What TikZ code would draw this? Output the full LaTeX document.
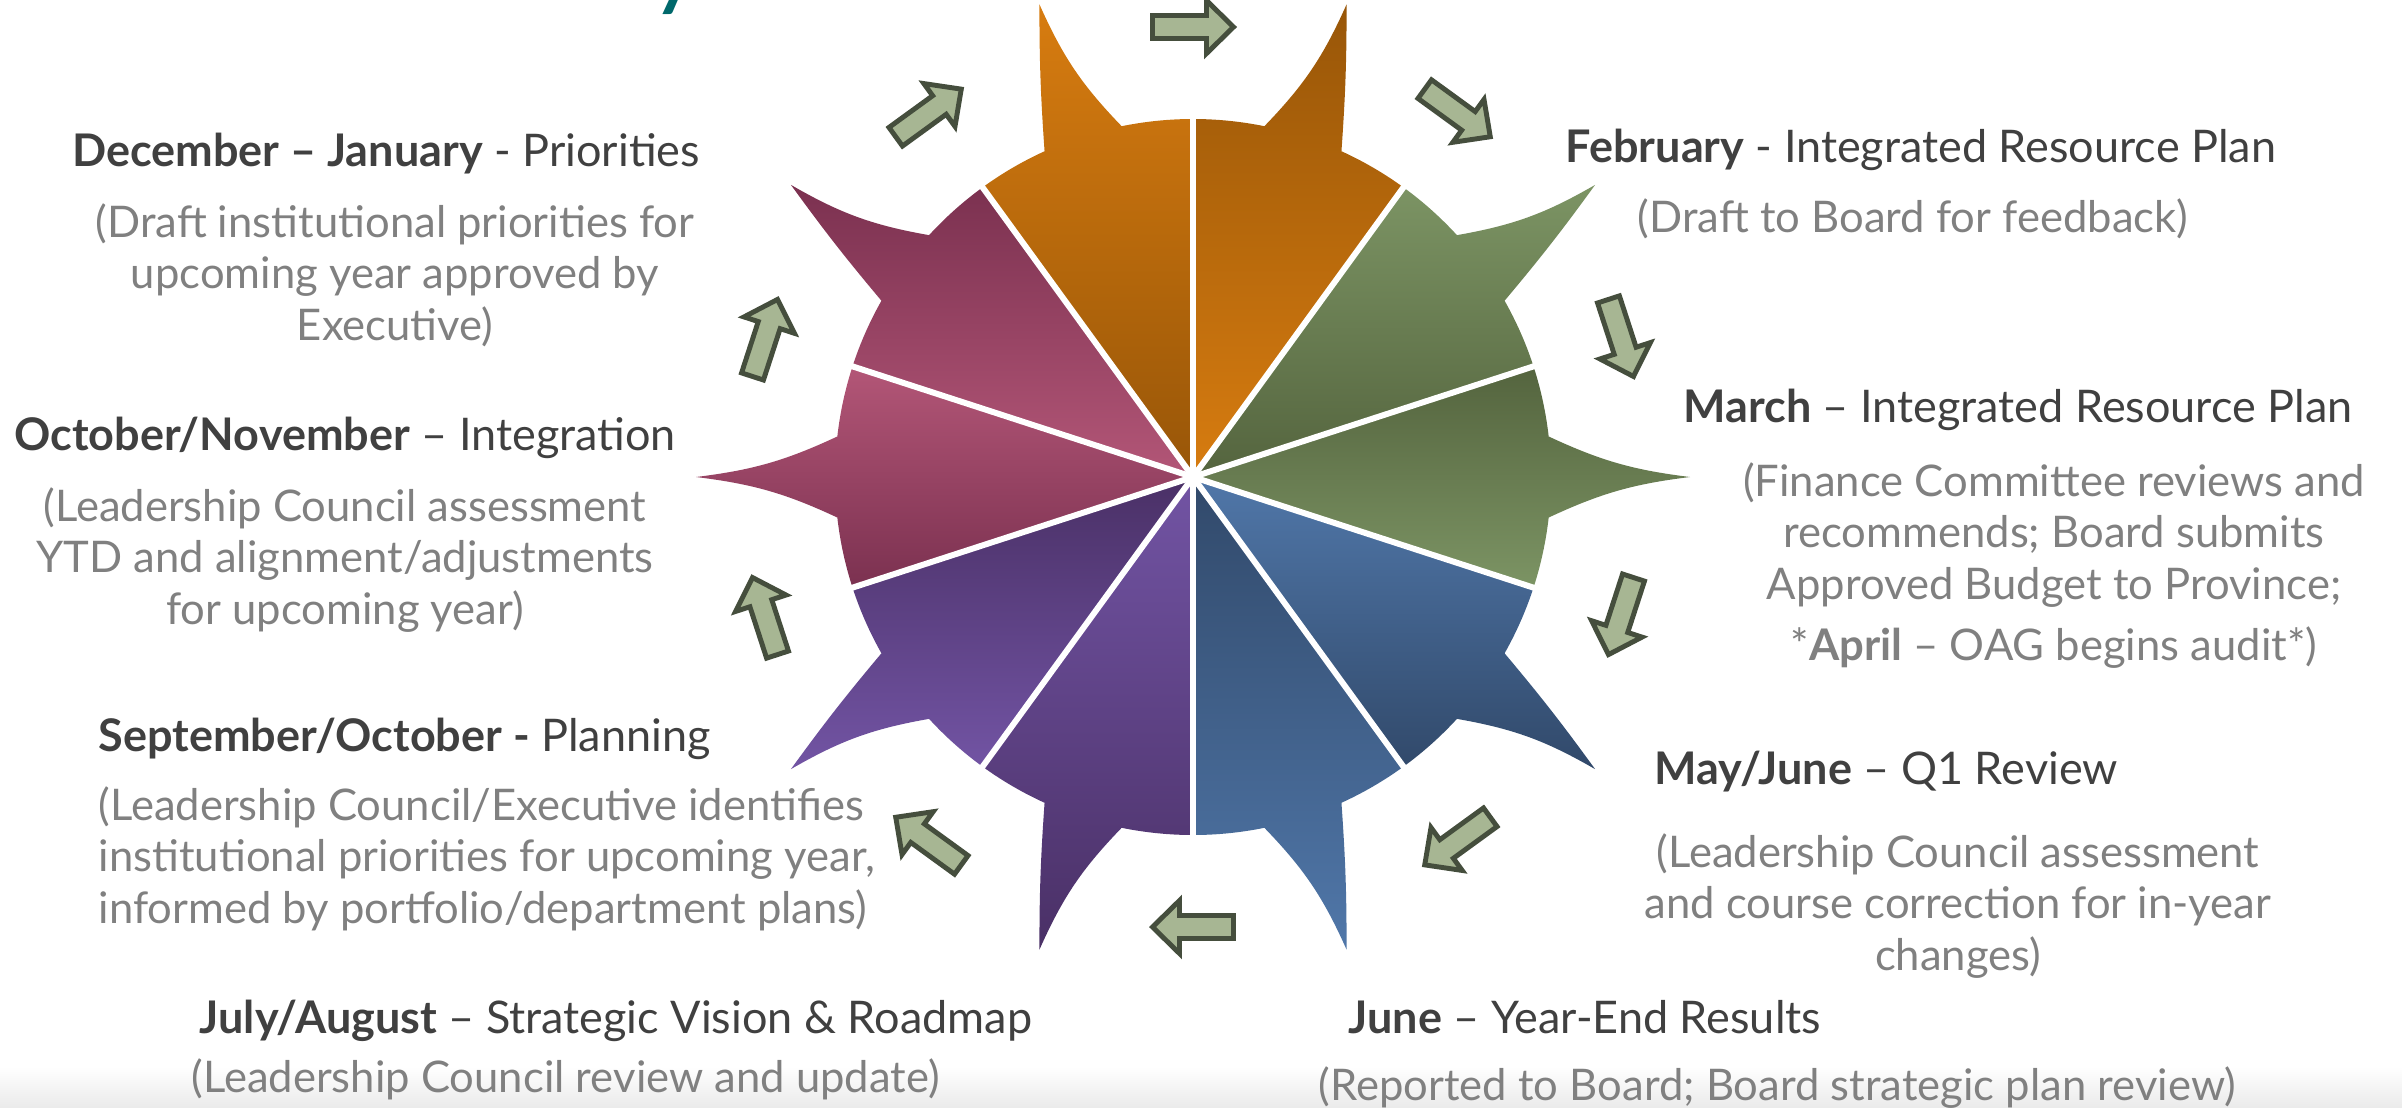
\documentclass[tikz,border=0pt]{standalone}
\usepackage{fontspec}
\setmainfont{Lato}
\usepackage{tikz}
\usetikzlibrary{positioning}

\definecolor{hdrgray}{HTML}{404040}
\definecolor{txtgray}{HTML}{808080}
\definecolor{arrfill}{HTML}{A7B693}
\definecolor{arrline}{HTML}{454E3D}
\definecolor{titleteal}{HTML}{00686B}
\definecolor{orangeL}{HTML}{D77C10}
\definecolor{orangeD}{HTML}{985608}
\definecolor{roseL}{HTML}{B35677}
\definecolor{roseD}{HTML}{7B3150}
\definecolor{violetL}{HTML}{7254A4}
\definecolor{violetD}{HTML}{4A3066}
\definecolor{steelL}{HTML}{5077A9}
\definecolor{steelD}{HTML}{31496A}
\definecolor{oliveL}{HTML}{7C9464}
\definecolor{oliveD}{HTML}{54643E}

\begin{document}
\begin{tikzpicture}[node distance=3mm]
  \tikzstyle{hdr}=[inner sep=0pt, text=hdrgray, font=\fontsize{12.8}{15}\selectfont]
  \tikzstyle{body}=[inner sep=0pt, text=txtgray, align=center, font=\fontsize{12.4}{14.6}\selectfont]
  \tikzstyle{blk}=[draw=arrline, fill=arrfill, line width=1.4pt, line join=miter]
  \tikzstyle{sep}=[draw=white, line width=1.7pt]

  \useasboundingbox (0,0) rectangle (24.02,11.07);
  \shade[top color=white, bottom color=black!8] (0,0) rectangle (24.02,0.4);

  % cut-off title
  \node[anchor=base, inner sep=0pt, text=titleteal, font=\fontsize{30}{30}\selectfont] (ttl) at (6.77,11.11) {y};

  \coordinate (ctr) at (11.93,6.30);

  % wheel
  \begin{scope}[shift={(ctr)}]
    \foreach \a/\ct/\cb/\bl/\br in {0/oliveD/oliveL/9/9, 36/oliveL/oliveD/-2/10,
        72/orangeD/orangeL/-2/10, 108/orangeL/orangeD/10/-2, 144/roseD/roseL/10/-2,
        180/roseL/roseD/9/9, 216/violetD/violetL/-2/10, 252/violetL/violetD/-2/10,
        288/steelD/steelL/10/-2, 324/steelL/steelD/10/-2}
      \shade[top color=\ct, bottom color=\cb]
        (0,0) -- (\a-18:3.58) arc[start angle=\a-18, end angle=\a-6.5, radius=3.58]
        to[bend left=\bl] (\a:4.97)
        to[bend left=\br] (\a+6.5:3.58)
        arc[start angle=\a+6.5, end angle=\a+18, radius=3.58] -- cycle;
    \foreach \a in {18,54,...,342}
      \draw[sep] (0,0) -- (\a:3.64);
    % block arrows between the spikes
    \foreach \a in {90,54,...,-234}
      \draw[blk, shift={(\a:4.5)}, rotate=\a-90]
        (-0.405,-0.115) -- (0.135,-0.115) -- (0.135,-0.265) -- (0.405,0)
        -- (0.135,0.265) -- (0.135,0.115) -- (-0.405,0.115) -- cycle;
  \end{scope}

  % left side
  \node[hdr, anchor=base] (h_dec) at (3.86,9.41) {\textbf{December – January} - Priorities};
  \node[body, below=0.37cm of h_dec.base, xshift=0.09cm] (b_dec)
    {(Draft institutional priorities for\\upcoming year approved by\\Executive)};

  \node[hdr, anchor=base] (h_oct) at (3.45,6.57) {\textbf{October/November} – Integration};
  \node[body, below=0.37cm of h_oct.base] (b_oct)
    {(Leadership Council assessment\\YTD and alignment/adjustments\\for upcoming year)};

  \node[hdr, anchor=base west] (h_sep) at (0.98,3.56) {\textbf{September/October -} Planning};
  \node[body, align=left, below=0.35cm of h_sep.base west, anchor=north west] (b_sep)
    {(Leadership Council/Executive identifies\\institutional priorities for upcoming year,\\informed by portfolio/department plans)};

  \node[hdr, anchor=base west] (h_jul) at (1.99,0.74) {\textbf{July/August} – Strategic Vision \& Roadmap};
  \node[body, align=left, below=0.25cm of h_jul.base west, anchor=north west, xshift=-0.08cm] (b_jul)
    {(Leadership Council review and update)};

  % right side
  \node[hdr, anchor=base] (h_feb) at (19.21,9.45) {\textbf{February} - Integrated Resource Plan};
  \node[body, below=0.36cm of h_feb.base, xshift=-0.08cm] (b_feb)
    {(Draft to Board for feedback)};

  \node[hdr, anchor=base] (h_mar) at (20.18,6.85) {\textbf{March} – Integrated Resource Plan};
  \node[body, below=0.40cm of h_mar.base, xshift=0.36cm] (b_mar)
    {(Finance Committee reviews and\\recommends; Board submits\\Approved Budget to Province;\\[2.8pt]*\textbf{April} – OAG begins audit*)};

  \node[hdr, anchor=base] (h_may) at (18.86,3.23) {\textbf{May/June} – Q1 Review};
  \node[body, below=0.49cm of h_may.base, xshift=0.72cm] (b_may)
    {(Leadership Council assessment\\and course correction for in-year\\changes)};

  \node[hdr, anchor=base west] (h_jun) at (13.48,0.74) {\textbf{June} – Year-End Results};
  \node[body, align=left, below=0.33cm of h_jun.base west, anchor=north west, xshift=-0.30cm] (b_jun)
    {(Reported to Board; Board strategic plan review)};
\end{tikzpicture}
\end{document}
